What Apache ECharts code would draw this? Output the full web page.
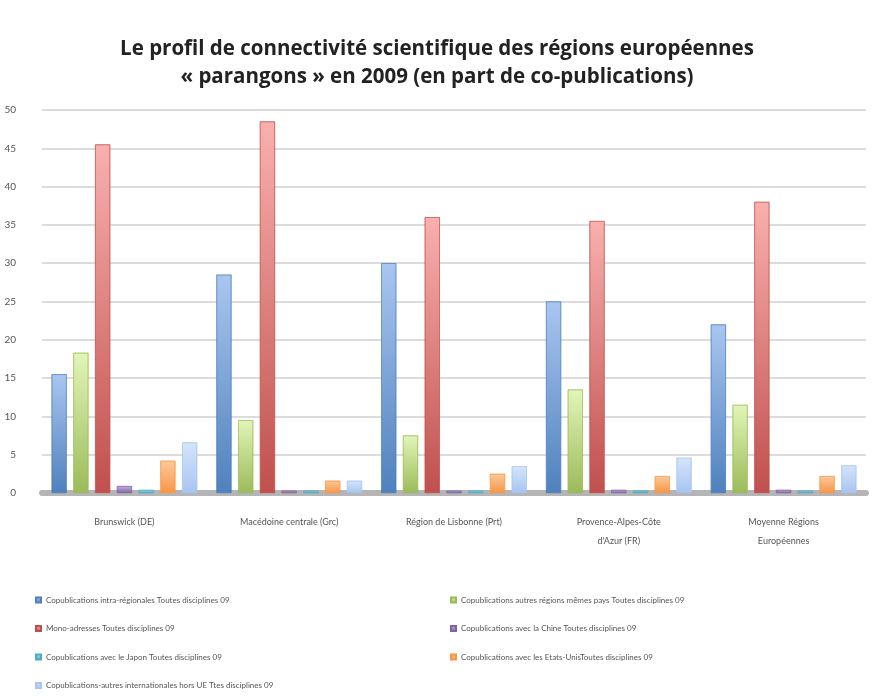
<!DOCTYPE html>
<html>
<head>
<meta charset="utf-8">
<script src="https://cdn.jsdelivr.net/npm/echarts@6/dist/echarts.min.js"></script>
<style>
html, body { margin: 0; padding: 0; background: #fff; }
#chart { width: 874px; height: 696px; }
</style>
</head>
<body>
<div id="chart"></div>
<script>
var regions = ['Brunswick (DE)', 'Macédoine centrale (Grc)', 'Région de Lisbonne (Prt)', 'Provence-Alpes-Côte\nd\'Azur (FR)', 'Moyenne Régions\nEuropéennes'];

var seriesNames = [
	'Copublications intra-régionales Toutes disciplines 09',
	'Copublications autres régions mêmes pays Toutes disciplines 09',
	'Mono-adresses Toutes disciplines 09',
	'Copublications avec la Chine Toutes disciplines 09',
	'Copublications avec le Japon Toutes disciplines 09',
	'Copublications avec les Etats-UnisToutes disciplines 09',
	'Copublications-autres internationales hors UE Ttes disciplines 09'
];

var intraRegional = [15.5, 28.5, 30, 25, 22];
var autresRegions = [18.3, 9.5, 7.5, 13.5, 11.5];
var monoAdresses = [45.5, 48.5, 36, 35.5, 38];
var chine = [0.9, 0.3, 0.3, 0.4, 0.4];
var japon = [0.4, 0.3, 0.3, 0.3, 0.3];
var etatsUnis = [4.2, 1.6, 2.5, 2.2, 2.2];
var autresInter = [6.6, 1.6, 3.5, 4.6, 3.6];

var yTicks = [0, 5, 10, 15, 20, 25, 30, 35, 40, 45, 50];

var allValues = [intraRegional, autresRegions, monoAdresses, chine, japon, etatsUnis, autresInter];
var colors = ['#4f81bd', '#9bbb59', '#c0504d', '#8064a2', '#4bacc6', '#f79646', '#a7c5f0'];
var lightColors = ['#a9c6f0', '#e2f5b8', '#f9b0ae', '#c4b0dd', '#a2dcec', '#fcc99a', '#d4e4fb'];

var chart = echarts.init(document.getElementById('chart'));

var series = [];
for (var i = 0; i < allValues.length; i++) {
	series.push({
		name: seriesNames[i],
		type: 'bar',
		data: allValues[i],
		barWidth: 15,
		barGap: '45%',
		itemStyle: {
			color: new echarts.graphic.LinearGradient(0, 0, 0, 1, [
				{ offset: 0, color: lightColors[i] },
				{ offset: 1, color: colors[i] }
			]),
			borderColor: colors[i],
			borderWidth: 0.5
		}
	});
}

var legendText = { color: '#555', fontSize: 8, fontFamily: 'Lato' };

var option = {
	backgroundColor: '#fff',
	color: colors,
	title: {
		text: 'Le profil de connectivité scientifique des régions européennes\n« parangons » en 2009 (en part de co-publications)',
		left: 'center',
		top: 30,
		textStyle: {
			fontFamily: 'Open Sans',
			fontSize: 20.5,
			fontWeight: 'bold',
			color: '#222',
			lineHeight: 28
		}
	},
	legend: [{
		data: [seriesNames[0], seriesNames[2], seriesNames[4], seriesNames[6]],
		orient: 'vertical',
		left: 35,
		top: 596,
		height: 130,
		padding: 0,
		itemWidth: 5,
		itemHeight: 5,
		itemGap: 20.5,
		icon: 'rect',
		textStyle: legendText
	}, {
		data: [seriesNames[1], seriesNames[3], seriesNames[5]],
		orient: 'vertical',
		left: 450,
		top: 596,
		height: 130,
		padding: 0,
		itemWidth: 5,
		itemHeight: 5,
		itemGap: 20.5,
		icon: 'rect',
		textStyle: legendText
	}],
	grid: {
		left: 42,
		right: 8,
		top: 110,
		bottom: 203
	},
	xAxis: {
		type: 'category',
		data: regions,
		axisTick: { show: false },
		axisLine: { lineStyle: { color: '#b5b5b5', width: 6 } },
		axisLabel: {
			color: '#555',
			fontSize: 9,
			fontFamily: 'Lato',
			margin: 20,
			lineHeight: 19
		}
	},
	yAxis: {
		type: 'value',
		min: yTicks[0],
		max: yTicks[yTicks.length - 1],
		interval: 5,
		axisTick: { show: false },
		axisLine: { show: false },
		axisLabel: { color: '#555', fontSize: 10, fontFamily: 'Lato', margin: 26 },
		splitLine: { lineStyle: { color: '#d0d0d0', width: 1.5 } }
	},
	series: series
};

chart.setOption(option);
</script>
</body>
</html>
